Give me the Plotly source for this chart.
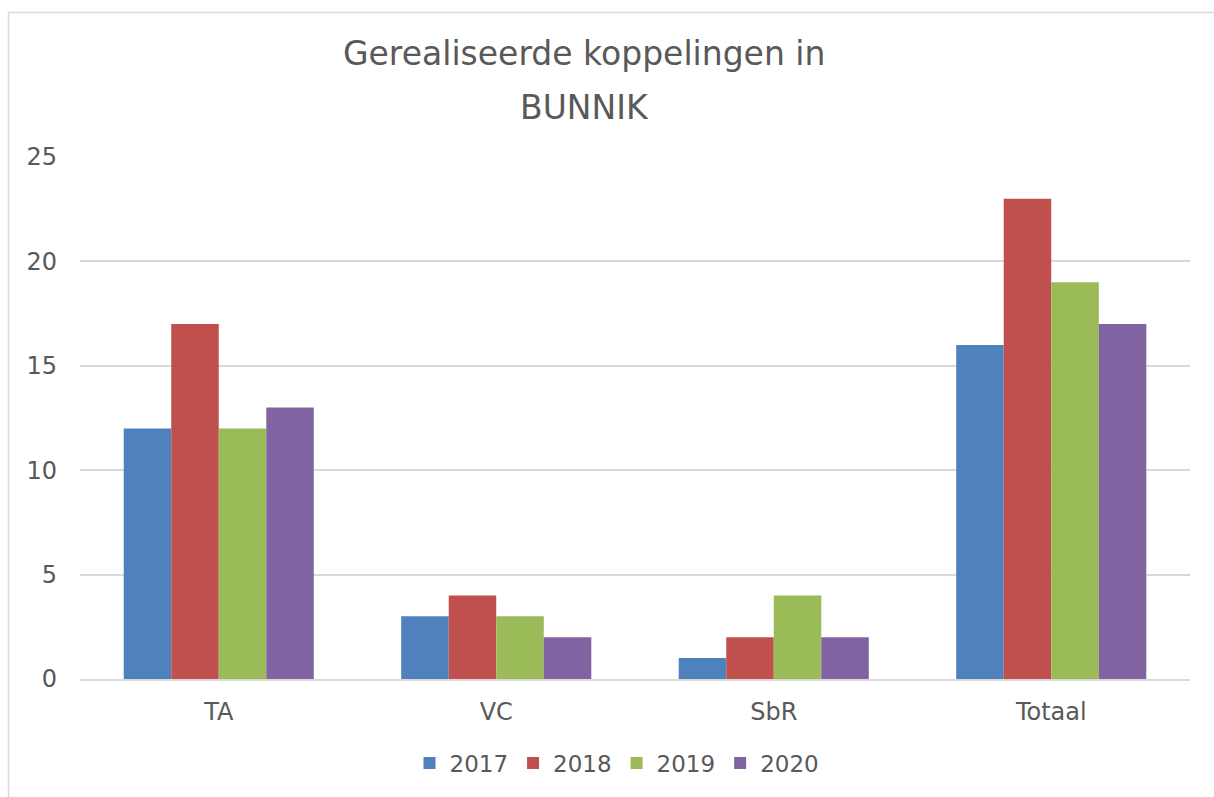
import plotly.graph_objects as go

categories = ["TA", "VC", "SbR", "Totaal"]
years = ["2017", "2018", "2019", "2020"]
v2017 = [12, 3, 1, 16]
v2018 = [17, 4, 2, 23]
v2019 = [12, 3, 4, 19]
v2020 = [13, 2, 2, 17]
series = [v2017, v2018, v2019, v2020]
colors = ["#4F81BD", "#C0504D", "#9BBB59", "#8064A2"]
title_lines = ["Gerealiseerde koppelingen in", "BUNNIK"]
y_ticks = [0, 5, 10, 15, 20, 25]

FONT = "DejaVu Sans"
TXT = "#595959"
W, H = 1214, 797
L, R, T, B = 80, 24, 157, 118
PH = H - T - B

fig = go.Figure()
for name, vals, col in zip(years, series, colors):
    fig.add_trace(go.Bar(x=categories, y=vals, name=name,
                         marker=dict(color=col, line=dict(width=0))))

def ypaper(px):
    return 1 + (T - px) / PH

def xpaper(px):
    return (px - L) / (W - L - R)

annotations = []
for line, py in zip(title_lines, [53, 107]):
    annotations.append(dict(text=line, xref="paper", yref="paper",
                            x=xpaper(584), y=ypaper(py), xanchor="center", yanchor="middle",
                            showarrow=False, font=dict(family=FONT, size=33, color=TXT)))

fig.update_layout(
    width=W, height=H,
    margin=dict(l=L, r=R, t=T, b=B),
    paper_bgcolor="white", plot_bgcolor="white",
    font=dict(family=FONT, size=24, color=TXT),
    barmode="group", bargap=0.315, bargroupgap=0.0,
    annotations=annotations,
    showlegend=True,
    legend=dict(orientation="h", x=xpaper(617), xanchor="center", y=ypaper(763), yanchor="middle",
                font=dict(family=FONT, size=23, color=TXT), itemclick=False,
                traceorder="normal", itemwidth=30),
    shapes=[
        dict(type="line", xref="paper", yref="paper", x0=xpaper(8.5), x1=xpaper(8.5),
             y0=ypaper(12), y1=ypaper(800), line=dict(color="#D9D9D9", width=1.5)),
        dict(type="line", xref="paper", yref="paper", x0=xpaper(8), x1=xpaper(1220),
             y0=ypaper(12.5), y1=ypaper(12.5), line=dict(color="#D9D9D9", width=1.5)),
    ],
)
fig.update_yaxes(range=[0, 25], tickvals=y_ticks, showgrid=True, gridcolor="#D9D9D9",
                 gridwidth=1.5, zeroline=False, showline=False, ticks="",
                 ticklabelstandoff=22, tickfont=dict(family=FONT, size=24, color=TXT))
fig.update_xaxes(showline=True, linecolor="#D9D9D9", linewidth=1.5, ticks="",
                 showgrid=False, ticklabelstandoff=10,
                 tickfont=dict(family=FONT, size=24, color=TXT))

fig.write_html("out.html", config={"displayModeBar": False},
               post_script="document.body.style.margin='0';document.body.style.overflow='hidden';")
